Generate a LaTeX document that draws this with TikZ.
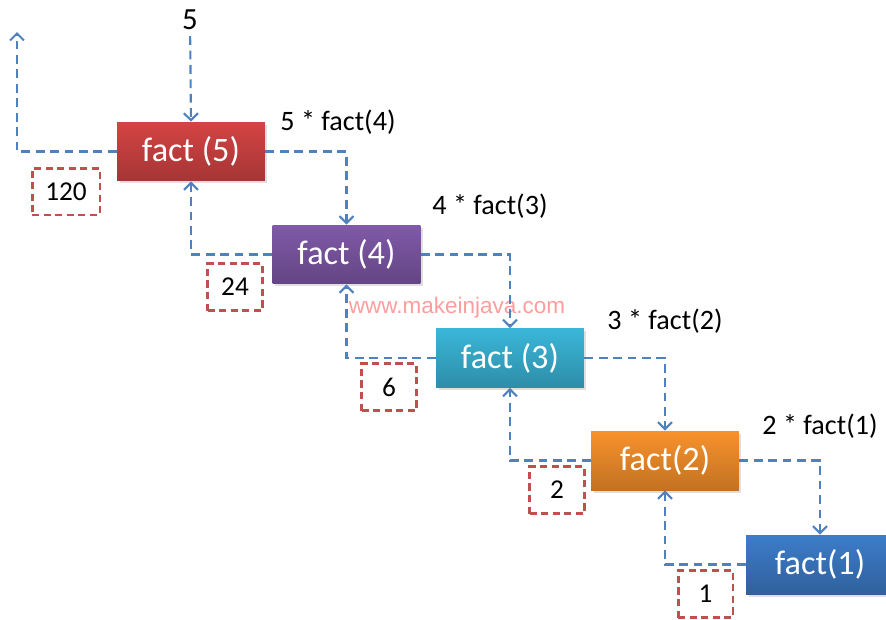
\documentclass[tikz,border=0pt]{standalone}
\usepackage{fontspec}
\setmainfont{Carlito}
\newfontfamily\wmfont{Liberation Sans}
\usetikzlibrary{arrows.meta,shadows}
\definecolor{Red}{HTML}{D44444}
\definecolor{Purple}{HTML}{8059A8}
\definecolor{Cyan}{HTML}{3AB6D8}
\definecolor{Orange}{HTML}{F8922C}
\definecolor{Blue}{HTML}{3D7CC9}
\definecolor{Link}{HTML}{4F81BD}
\definecolor{Ret}{HTML}{C0504D}
\definecolor{Mark}{HTML}{FF9C9C}

\begin{document}
\begin{tikzpicture}[x=0.02cm,y=-0.02cm,
    callbox/.style={minimum width=2.96cm,minimum height=1.18cm,inner sep=0pt,text=white,
      font=\fontsize{19.5}{23}\selectfont,drop shadow={opacity=0.25,shadow xshift=0.05cm,shadow yshift=-0.05cm}},
    calltxt/.style={text=black,font=\fontsize{16}{19}\selectfont},
    retbox/.style={draw=Ret,dashed,dash pattern=on 4pt off 2.6pt,line width=1.7pt,minimum width=1.1cm,
      minimum height=0.94cm,font=\fontsize{15.5}{18}\selectfont},
    flow/.style={draw=Link,dashed,dash pattern=on 5pt off 3.2pt,line width=1.2pt,-{Straight Barb[length=1.4mm,width=2.8mm]}}]
    \useasboundingbox (0,0) rectangle (886,619);

    \foreach \n/\x/\y/\c/\t in {5/191/151.5/Red/fact (5),4/346.5/254.5/Purple/fact (4),3/510/358/Cyan/fact (3),
        2/665/460.5/Orange/fact(2),1/820/564.5/Blue/fact(1)}{
      \node[callbox,top color=\c,bottom color=\c!78!black] (f\n) at (\x,\y) {\t};}

    \foreach \n/\m/\x/\y in {5/4/338/122,4/3/490/206,3/2/665/321,2/1/820/426}{
      \node[calltxt] (c\n) at (\x,\y) {\n{} * fact(\m)};}

    \node[retbox,minimum width=1.36cm] (r5) at (66,191.5) {120};
    \node[retbox] (r4) at (235,287) {24};
    \node[retbox] (r3) at (389,387) {6};
    \node[retbox] (r2) at (557,490) {2};
    \node[retbox] (r1) at (705.5,594) {1};

    \node[text=black,font=\fontsize{17.5}{20}\selectfont] (n5) at (190,20) {5};
    \coordinate (out) at (17,32);
    \node[text=Mark,font=\wmfont\fontsize{12.8}{15}\selectfont] (wm) at (457,308) {www.makeinjava.com};

    \draw[flow] (n5) -- (f5.north);
    \draw[flow] (f5.west) -| (out);
    \foreach \a/\b in {5/4,4/3,3/2,2/1}{
      \draw[flow] (f\a.east) -| (f\b.north);
      \draw[flow] (f\b.west) -| (f\a.south);}
\end{tikzpicture}
\end{document}
